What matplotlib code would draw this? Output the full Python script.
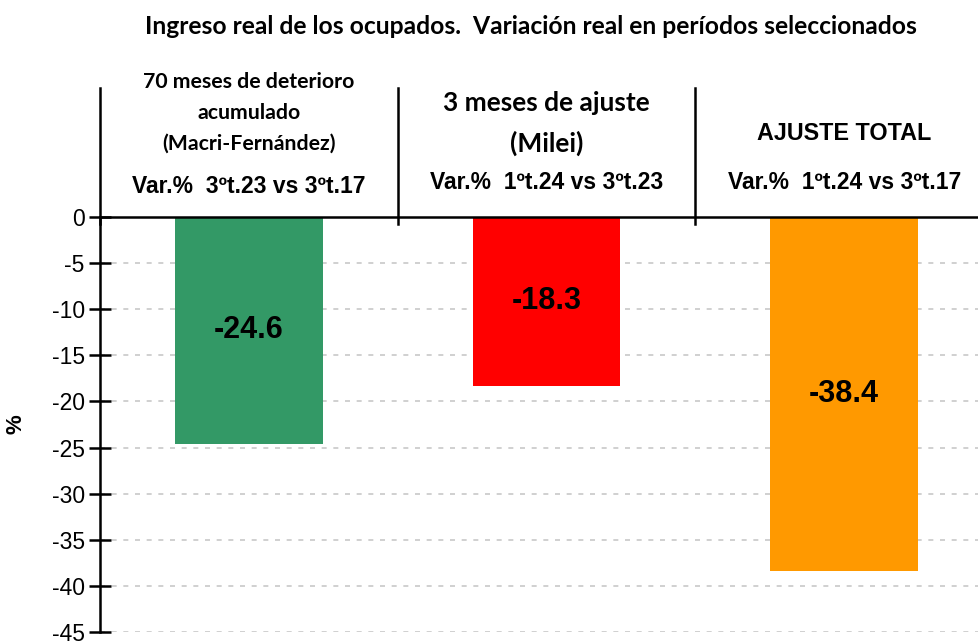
import matplotlib
matplotlib.use("Agg")
import matplotlib.pyplot as plt
import numpy as np

title = "Ingreso real de los ocupados.  Variación real en períodos seleccionados"
headers_top = [["70 meses de deterioro", "acumulado", "(Macri-Fernández)"],
               ["3 meses de ajuste", "(Milei)"],
               ["AJUSTE TOTAL"]]
headers_var = ["Var.%  3ºt.23 vs 3ºt.17",
               "Var.%  1ºt.24 vs 3ºt.23",
               "Var.%  1ºt.24 vs 3ºt.17"]
values = [-24.6, -18.3, -38.4]
yticks = [0, -5, -10, -15, -20, -25, -30, -35, -40, -45]

colors = ["#339966", "#FF0000", "#FF9900"]

fig = plt.figure(figsize=(9.79, 6.41), dpi=100)
ax = fig.add_axes([100/979, 9/641, 893/979, 415/641])

x = np.arange(len(values))
bars = ax.bar(x, values, width=0.495, color=colors, zorder=3)
ax.bar_label(bars, labels=[f"{v:.1f}" for v in values], label_type="center",
             fontsize=22, fontweight="bold", family="Liberation Sans", zorder=4)

ax.set_xlim(-0.5, 2.5)
ax.set_ylim(-45, 0)
ax.set_yticks(yticks)
ax.set_yticklabels([str(t) for t in yticks], family="Liberation Sans", fontsize=16.5)
ax.set_xticks([])
ax.yaxis.grid(True, linestyle=(0, (3, 4)), color="#c8c8c8", linewidth=1.2, zorder=0)
ax.tick_params(axis="y", direction="inout", length=16, width=1.8, pad=3)

for s in ["bottom", "right"]:
    ax.spines[s].set_visible(False)
ax.spines["top"].set_linewidth(1.8)
ax.spines["left"].set_linewidth(1.8)
ax.spines["top"].set_zorder(5)

# separators above zero
for bx in [-0.5, 0.5, 1.5, 2.5]:
    ax.plot([bx, bx], [-0.8, 14.0], color="black", linewidth=1.8, clip_on=False, zorder=5)

# headers
upper_y = {0: [14.64, 11.28, 7.92], 1: [12.36, 8.02], 2: [9.0]}
for i, lines in enumerate(headers_top):
    for j, line in enumerate(lines):
        if i == 0:
            ax.text(i, upper_y[i][j], line, ha="center", va="center", fontsize=15.3,
                    fontweight="bold", family="Lato", clip_on=False)
        elif i == 1:
            ax.text(i, upper_y[i][j], line, ha="center", va="center", fontsize=19,
                    fontweight="bold", family="Lato", clip_on=False)
        else:
            ax.text(i, upper_y[i][j], line, ha="center", va="center", fontsize=16.8,
                    fontweight="bold", family="Liberation Sans", clip_on=False)
var_y = [3.36, 3.69, 3.69]
for i, t in enumerate(headers_var):
    ax.text(i, var_y[i], t, ha="center", va="center", fontsize=16.5,
            fontweight="bold", family="Liberation Sans", clip_on=False)

ax.set_ylabel("%", fontsize=16, fontweight="bold", family="Liberation Sans")
ax.yaxis.set_label_coords(-74/893, 0.5)

fig.text(531/979, 1 - 27/641, title, ha="center", va="center", fontsize=17.7,
         fontweight="bold", family="Lato")

fig.savefig("out.png", dpi=100)
